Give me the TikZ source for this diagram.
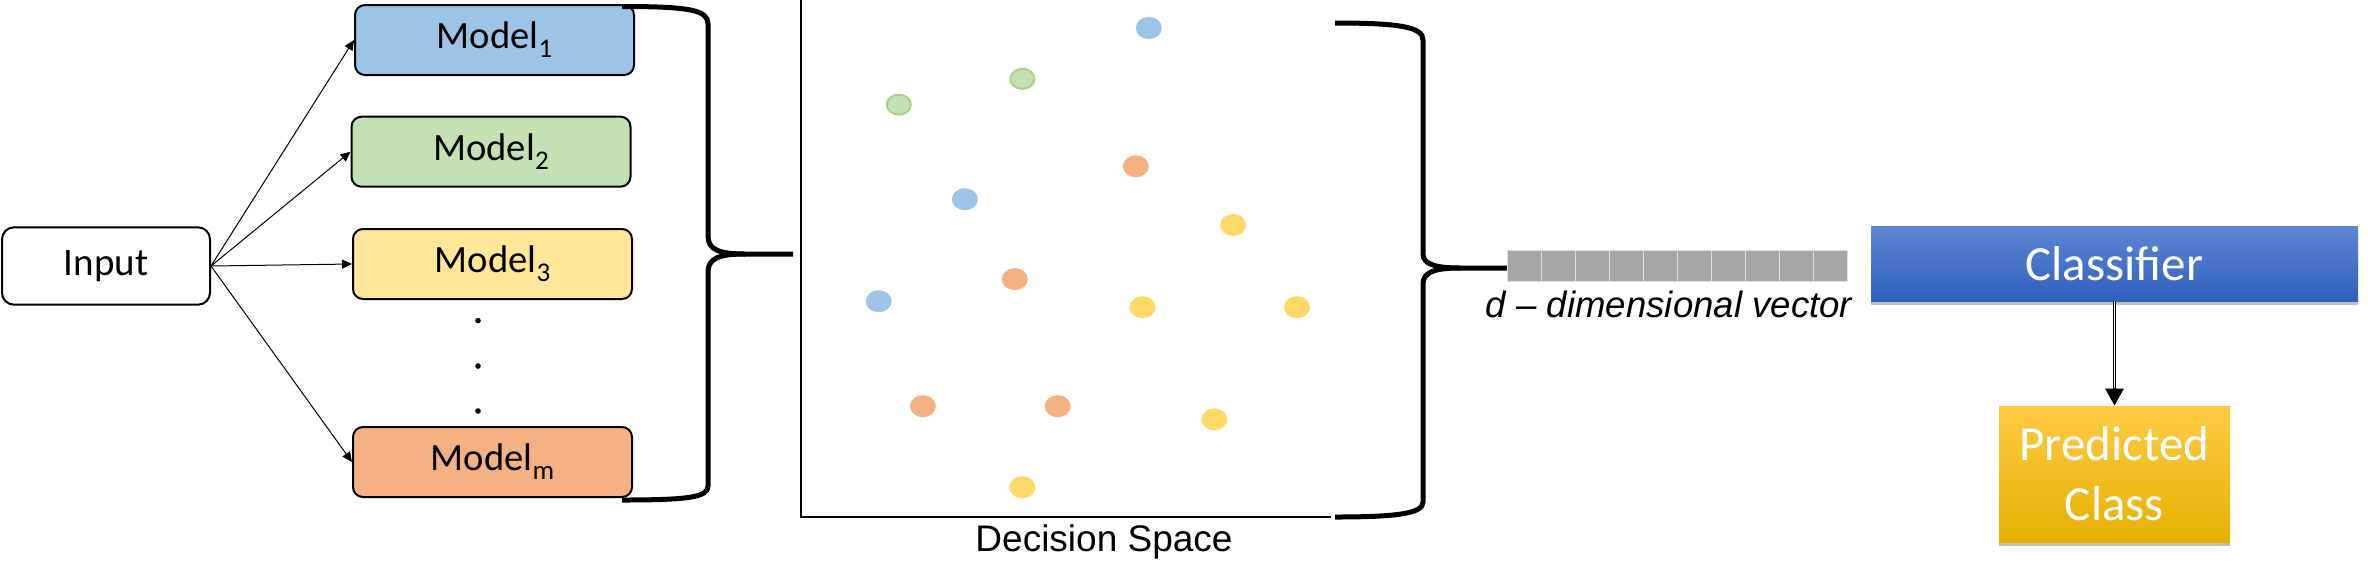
\documentclass[tikz,border=0pt]{standalone}
\usepackage{fontspec}
\setmainfont{Carlito}
\newfontfamily\arialf{Liberation Sans}
\usetikzlibrary{arrows.meta,shadows}
\definecolor{mblue}{HTML}{9DC3E6}
\definecolor{mgreen}{HTML}{C5E0B4}
\definecolor{mgreenb}{HTML}{A9D18E}
\definecolor{myellow}{HTML}{FFE699}
\definecolor{dyellow}{HTML}{FFD966}
\definecolor{morange}{HTML}{F4B183}
\definecolor{vgray}{HTML}{A6A6A6}
\definecolor{vline}{HTML}{E0E0E0}
\definecolor{clstop}{HTML}{5E86D2}
\definecolor{clsbot}{HTML}{2F5FBD}
\definecolor{prtop}{HTML}{FFCA45}
\definecolor{prmid}{HTML}{FFC000}
\definecolor{prbot}{HTML}{E6B000}
\newcommand{\mysub}[1]{\raisebox{-4.5pt}{\fontsize{13.5}{15}\selectfont #1}}
\begin{document}
\begin{tikzpicture}[x=0.5pt,y=-0.5pt,
  modelbox/.style={draw, line width=1pt, rounded corners=5pt, minimum width=139.5pt,
    minimum height=35pt, inner sep=0pt, font=\fontsize{19.3}{22}\selectfont},
  inbox/.style={draw, line width=1pt, rounded corners=6pt, minimum width=104pt,
    minimum height=38.7pt, inner sep=0pt, font=\fontsize{19.5}{22}\selectfont},
  arr/.style={-{Triangle[length=5pt,width=4.5pt]}, line width=0.5pt},
  brace/.style={line width=2.5pt},
  vcell/.style={fill=vgray, draw=vline, line width=0.5pt},
  shadowbox/.style={inner sep=0pt, text=white,
    drop shadow={shadow xshift=0pt, shadow yshift=-2pt, opacity=0.25, fill=black}},
  dotb/.style={fill=mblue},
  doto/.style={fill=morange},
  doty/.style={fill=dyellow},
  dotg/.style={fill=mgreen, draw=mgreenb, line width=1pt}
]
\useasboundingbox (0,0) rectangle (2368,586);

% input and models
\node[inbox] (input) at (106,266) {Input};
\node[modelbox, fill=mblue]   (m1) at (494.5,40)  {Model\mysub{1}};
\node[modelbox, fill=mgreen]  (m2) at (491,151.7) {Model\mysub{2}};
\node[modelbox, fill=myellow] (m3) at (492.5,264) {Model\mysub{3}};
\node[modelbox, fill=morange] (mm) at (492.5,462) {Model\mysub{m}};
\foreach \yy in {320.6,366,411} \fill (478,\yy) circle (1.4pt);

\draw[arr] (input.east) -- (m1.west);
\draw[arr] (input.east) -- (m2.west);
\draw[arr] (input.east) -- (m3.west);
\draw[arr] (input.east) -- (mm.west);

% left brace
\draw[brace] (622,6.5) .. controls (690,6.5) and (708,10) .. (708,24)
  -- (708,236) .. controls (708,250) and (720,254) .. (745,254) -- (793,254);
\draw[brace] (745,254) .. controls (720,254) and (708,258) .. (708,272)
  -- (708,486) .. controls (708,497) and (690,500) .. (622,500);

% decision space
\coordinate (dsTop) at (801,0);
\coordinate (dsO) at (801,517);
\coordinate (dsR) at (1331,517);
\draw[line width=1pt] (dsTop) -- (dsO) -- (dsR);
\node[font=\arialf\fontsize{18.5}{22}\selectfont] (dslabel) at (1104,542) {Decision Space};

\path[dotb] (1148.8,28) ellipse [x radius=6.5pt, y radius=5.5pt];
\path[dotg] (1022.4,78.8) ellipse [x radius=6pt, y radius=5pt];
\path[dotg] (898.8,104.6) ellipse [x radius=6pt, y radius=5pt];
\path[doto] (1135.8,166.3) ellipse [x radius=6.5pt, y radius=5.5pt];
\path[dotb] (964.8,199.2) ellipse [x radius=6.5pt, y radius=5.5pt];
\path[doty] (1233.1,225) ellipse [x radius=6.5pt, y radius=5.5pt];
\path[doto] (1014.8,279.1) ellipse [x radius=6.5pt, y radius=5.5pt];
\path[dotb] (878.7,301.2) ellipse [x radius=6.5pt, y radius=5.5pt];
\path[doty] (1142.5,307.2) ellipse [x radius=6.5pt, y radius=5.5pt];
\path[doty] (1297,307.2) ellipse [x radius=6.5pt, y radius=5.5pt];
\path[doto] (922.9,406.2) ellipse [x radius=6.5pt, y radius=5.5pt];
\path[doto] (1057.7,406.2) ellipse [x radius=6.5pt, y radius=5.5pt];
\path[doty] (1214.4,419.3) ellipse [x radius=6.5pt, y radius=5.5pt];
\path[doty] (1022.4,487.3) ellipse [x radius=6.5pt, y radius=5.5pt];

% right brace
\draw[brace] (1335,23) .. controls (1400,23) and (1423,27) .. (1423,40)
  -- (1423,254) .. controls (1423,264) and (1435,268) .. (1460,268) -- (1508,268);
\draw[brace] (1460,268) .. controls (1435,268) and (1423,272) .. (1423,284)
  -- (1423,502) .. controls (1423,513) and (1400,517) .. (1335,517);

% vector
\node[inner sep=0pt, minimum width=170pt, minimum height=15.5pt] (vec) at (1677.7,265.5) {};
\foreach \i in {0,...,9} \draw[vcell] (1507.7+\i*34,250) rectangle ++(34,31);
\node[font=\arialf\itshape\fontsize{18.3}{22}\selectfont] (veclabel) at (1669,304) {d – dimensional vector};

% classifier and prediction
\node[shadowbox, minimum width=243.5pt, minimum height=37.5pt,
  top color=clstop, bottom color=clsbot, font=\fontsize{24.5}{28}\selectfont]
  (cls) at (2114.5,263.5) {Classifier};
\node[shadowbox, minimum width=115.5pt, minimum height=68pt, align=center,
  top color=prtop, middle color=prmid, bottom color=prbot, font=\fontsize{24.5}{30}\selectfont]
  (pred) at (2114.5,474) {Predicted\\Class};

\draw[-{Triangle[length=8.5pt,width=9pt]}, line width=1.5pt] (cls.south) -- (pred.north);
\draw[white, line width=0.5pt, shorten >=9pt] (cls.south) -- (pred.north);
\end{tikzpicture}
\end{document}
